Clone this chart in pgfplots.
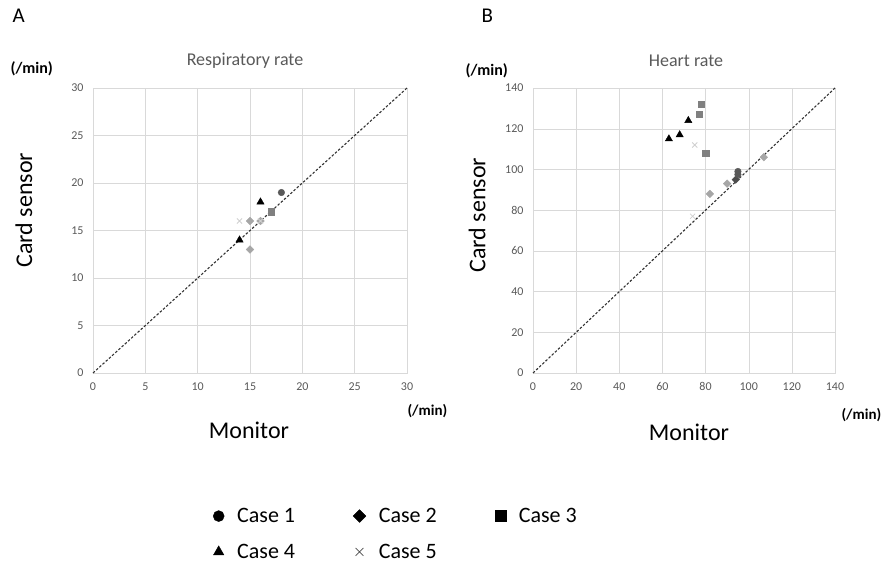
\documentclass[border=0pt]{standalone}
\usepackage{fontspec}
\setmainfont{Carlito}
\usepackage{pgfplots}
\pgfplotsset{compat=1.18}
\definecolor{cone}{HTML}{595959}
\definecolor{ctwo}{HTML}{A6A6A6}
\definecolor{cthree}{HTML}{808080}
\definecolor{cfour}{HTML}{000000}
\definecolor{cfive}{HTML}{D0D0D0}
\definecolor{gridc}{HTML}{D9D9D9}
\definecolor{tickc}{HTML}{595959}

\pgfplotsset{
  cardstyle/.style={
    scale only axis,
    axis line style={gridc},
    grid=major,
    grid style={gridc},
    major tick length=0pt,
    tick label style={font=\fontsize{12}{14}\selectfont, text=tickc},
    /pgf/number format/assume math mode=true,
    xticklabel style={yshift=-6pt},
    yticklabel style={xshift=-6pt},
    clip=false,
  },
  diag/.style={black!80, dash pattern=on 2.5pt off 1.8pt, line width=1.1pt, forget plot},
  dmd/.style={mark=square*, mark options={rotate=45}},
}

\begin{document}
\begin{tikzpicture}[x=1pt,y=1pt]
\useasboundingbox (0pt,0pt) rectangle (886pt,-565pt);

% ---------- A: respiratory rate ----------
\begin{axis}[cardstyle,
  at={(93pt,-373pt)}, anchor=south west,
  width=314pt, height=285pt,
  xmin=0, xmax=30, ymin=0, ymax=30,
  xtick={0,5,...,30}, ytick={0,5,...,30},
  legend columns=3,
  legend style={draw=none, fill=none, font=\fontsize{22}{26}\selectfont,
    at={(117pt,-131pt)}, anchor=north west,
    /tikz/every odd column/.append style={column sep=11pt},
    /tikz/every even column/.append style={column sep=56pt},
    row sep=16pt},
  legend cell align=left,
]
\addlegendimage{only marks, mark=*, mark size=5.5pt, black}
\addlegendentry{Case 1}
\addlegendimage{only marks, dmd, mark size=4.5pt, black}
\addlegendentry{Case 2}
\addlegendimage{only marks, mark=square*, mark size=5.5pt, black}
\addlegendentry{Case 3}
\addlegendimage{only marks, mark=triangle*, mark size=6pt, black}
\addlegendentry{Case 4}
\addlegendimage{only marks, mark=x, mark size=5.5pt, black!70, thick}
\addlegendentry{Case 5}

\addplot[diag] coordinates {(0,0) (30,30)};
\addplot[only marks, dmd, mark size=2.7pt, ctwo, forget plot] coordinates {(15,16) (15,13) (16,16)};
\addplot[only marks, mark=x, mark size=3.6pt, cfive, thick, forget plot] coordinates {(14,16) (16,16)};
\addplot[only marks, mark=square*, mark size=3.2pt, cthree, forget plot] coordinates {(17,17)};
\addplot[only marks, mark=*, mark size=3.3pt, cone, forget plot] coordinates {(18,19)};
\addplot[only marks, mark=triangle*, mark size=4.2pt, cfour, forget plot] coordinates {(16,18) (14,14)};
\end{axis}

\node[anchor=west, font=\fontsize{21}{25}\selectfont] at (9,-16) {A};
\node[anchor=west, font=\bfseries\fontsize{16}{19}\selectfont] at (7,-69) {(/min)};
\node[font=\fontsize{18}{21}\selectfont, text=tickc] at (245,-61) {Respiratory rate};
\node[rotate=90, font=\fontsize{24}{28}\selectfont] at (24,-210) {Card sensor};
\node[font=\fontsize{24}{28}\selectfont] at (249,-430) {Monitor};
\node[anchor=west, font=\bfseries\fontsize{15}{18}\selectfont] at (404,-411) {(/min)};

% ---------- B: heart rate ----------
\begin{axis}[cardstyle,
  at={(533pt,-373pt)}, anchor=south west,
  width=302pt, height=285pt,
  xmin=0, xmax=140, ymin=0, ymax=140,
  xtick={0,20,...,140}, ytick={0,20,...,140},
]
\addplot[diag] coordinates {(0,0) (140,140)};
\addplot[only marks, dmd, mark size=2.7pt, ctwo] coordinates {(90,93) (82,88) (107,106)};
\addplot[only marks, dmd, mark size=2.7pt, cone!85!black] coordinates {(94,95)};
\addplot[only marks, mark=x, mark size=3.6pt, cfive, thick] coordinates {(75,112) (74,77)};
\addplot[only marks, mark=square*, mark size=3.2pt, cthree] coordinates {(78,132) (77,127) (80,108)};
\addplot[only marks, mark=*, mark size=3.3pt, cone] coordinates {(95,99) (95,97.5)};
\addplot[only marks, mark=triangle*, mark size=4.2pt, cfour] coordinates {(72,124) (68,117) (63,115)};
\end{axis}

\node[anchor=west, font=\fontsize{21}{25}\selectfont] at (478,-16) {B};
\node[anchor=west, font=\bfseries\fontsize{16}{19}\selectfont] at (462,-71) {(/min)};
\node[font=\fontsize{18}{21}\selectfont, text=tickc] at (686,-61) {Heart rate};
\node[rotate=90, font=\fontsize{24}{28}\selectfont] at (477,-215) {Card sensor};
\node[font=\fontsize{24}{28}\selectfont] at (689,-432) {Monitor};
\node[anchor=west, font=\bfseries\fontsize{15}{18}\selectfont] at (838,-415) {(/min)};
\end{tikzpicture}
\end{document}
